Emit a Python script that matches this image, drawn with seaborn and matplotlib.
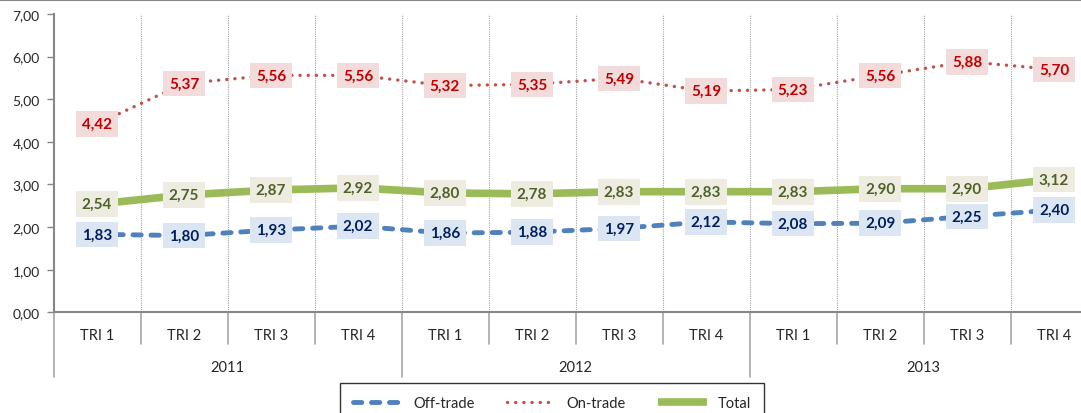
import numpy as np
import pandas as pd
import matplotlib
matplotlib.use('Agg')
import matplotlib.pyplot as plt
import seaborn as sns
from matplotlib.lines import Line2D

# Datos
trimestres = ['TRI 1', 'TRI 2', 'TRI 3', 'TRI 4'] * 3
anios = ['2011', '2012', '2013']
off_trade = [1.83, 1.80, 1.93, 2.02, 1.86, 1.88, 1.97, 2.12, 2.08, 2.09, 2.25, 2.40]
on_trade = [4.42, 5.37, 5.56, 5.56, 5.32, 5.35, 5.49, 5.19, 5.23, 5.56, 5.88, 5.70]
total = [2.54, 2.75, 2.87, 2.92, 2.80, 2.78, 2.83, 2.83, 2.83, 2.90, 2.90, 3.12]

sns.set_style('white')
plt.rcParams['font.family'] = ['Lato', 'DejaVu Sans']

fig = plt.figure(figsize=(10.81, 4.14), dpi=100)
ax = fig.add_axes([53.5 / 1081, 1 - 313.3 / 414, 1044 / 1081, (313.3 - 15) / 414])

x = np.arange(len(trimestres))
df = pd.DataFrame({'x': x, 'Off-trade': off_trade, 'On-trade': on_trade, 'Total': total})

series = [
    ('Off-trade', '#4F81BD', dict(lw=3.5, linestyle=(0, (1.7, 2.0)), dash_capstyle='round'),
     '#DCE6F2', '#002060'),
    ('On-trade', '#C0504D', dict(lw=2.4, linestyle=(0, (0.05, 2.4)), dash_capstyle='round'),
     '#F2DCDB', '#C00000'),
    ('Total', '#9BBB59', dict(lw=5.5, linestyle='-', solid_capstyle='butt'),
     '#EEECE1', '#4F6228'),
]

for nombre, color, estilo, fondo, color_txt in series:
    sns.lineplot(data=df, x='x', y=nombre, ax=ax, color=color, label=nombre, zorder=3, **estilo)
    for xi, v in zip(x, df[nombre]):
        ax.text(xi, v, f'{v:.2f}'.replace('.', ','), ha='center', va='center',
                fontsize=11, fontweight='bold', color=color_txt, zorder=5,
                bbox=dict(boxstyle='square,pad=0.38', fc=fondo, ec='none'))

ax.set_xlim(-0.5, 11.5)
ax.set_ylim(0, 7)
ax.set_yticks(np.arange(0, 8, 1))
ax.set_yticklabels([f'{v:.2f}'.replace('.', ',') for v in np.arange(0, 8, 1)], fontsize=10)
ax.tick_params(axis='y', length=5, width=1, color='#868686', left=True, pad=5)
ax.set_xticks([])
ax.set_xlabel('')
ax.set_ylabel('')

for s in ['top', 'right']:
    ax.spines[s].set_visible(False)
for s in ['left', 'bottom']:
    ax.spines[s].set_color('#868686')
    ax.spines[s].set_linewidth(1.5)

# lineas verticales punteadas
for b in np.arange(0.5, 11, 1):
    ax.axvline(b, color='#A6A6A6', lw=0.8, linestyle=(0, (1, 1)), zorder=1)

# eje de categorias en dos niveles
trans = ax.get_xaxis_transform()
for i, t in enumerate(trimestres):
    ax.text(i, -0.075, t, transform=trans, ha='center', va='center', fontsize=10.5)
for i, a in enumerate(anios):
    ax.text(4 * i + 1.5, -0.182, a, transform=trans, ha='center', va='center', fontsize=10.5)
for b in np.arange(-0.5, 12, 1):
    largo = -0.218 if (b + 0.5) % 4 == 0 else -0.107
    ax.plot([b, b], [0, largo], transform=trans, color='#A6A6A6', lw=1.2, clip_on=False)

ax.get_legend().remove()
handles, labels = ax.get_legend_handles_labels()
leg = fig.legend(handles, labels, loc='upper center', bbox_to_anchor=(552 / 1081, 1 - 384 / 414),
                 ncol=3, fontsize=10.5, frameon=True, fancybox=False, edgecolor='black',
                 handlelength=3.4, handletextpad=0.7, columnspacing=2.2, borderpad=0.9,
                 borderaxespad=0)
leg.get_frame().set_linewidth(1.0)

fig.add_artist(Line2D([0, 1], [0.998, 0.998], transform=fig.transFigure, color='#868686', lw=1.5))

fig.savefig('out.png', dpi=100)
